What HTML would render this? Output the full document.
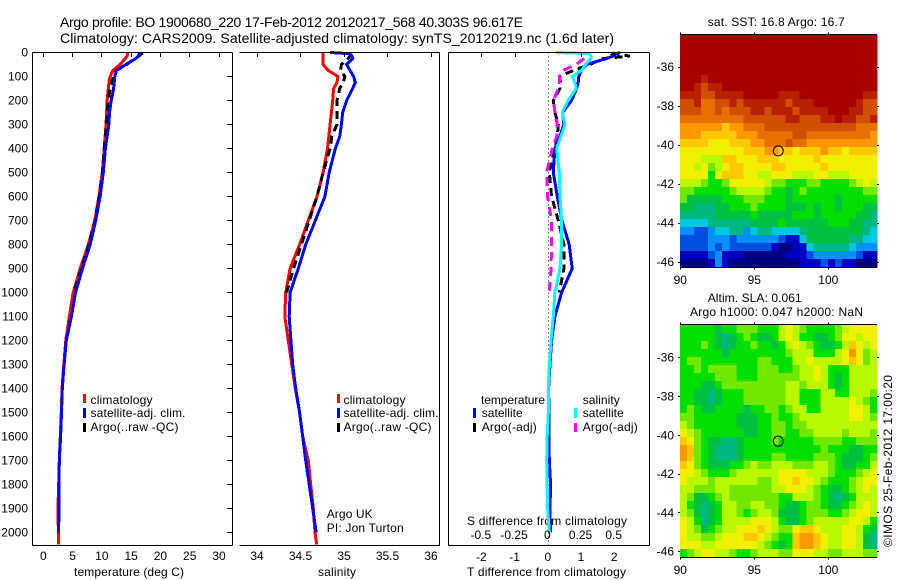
<!DOCTYPE html>
<html>
<head>
<meta charset="utf-8">
<title>Argo profile</title>
<style>
html,body{margin:0;padding:0;background:#fff;width:900px;height:580px;overflow:hidden}
svg{display:block}
text{font-family:"Liberation Sans",sans-serif;font-size:12px;fill:#000}
</style>
</head>
<body>
<svg id="chart" width="900" height="580" viewBox="0 0 900 580">
<text x="60" y="27" style="font-size:14px" textLength="463">Argo profile: BO 1900680_220 17-Feb-2012 20120217_568 40.303S 96.617E</text>
<text x="60" y="43" style="font-size:14px" textLength="554">Climatology: CARS2009. Satellite-adjusted climatology: synTS_20120219.nc (1.6d later)</text>

<text x="74" y="576" textLength="110">temperature (deg C)</text>
<text x="318" y="576" textLength="38">salinity</text>
<text x="467" y="576" textLength="159">T difference from climatology</text>
<text x="467" y="525" textLength="160">S difference from climatology</text>

<g>
<rect x="83" y="394" width="3" height="9" fill="#ff0000"/>
<text x="90.5" y="404" textLength="62">climatology</text>
<rect x="83" y="408" width="3" height="10" fill="#0000ff"/>
<text x="90.5" y="417" textLength="95">satellite-adj. clim.</text>
<rect x="83" y="423" width="3" height="9" fill="#000"/>
<text x="90.5" y="431" textLength="88">Argo(..raw -QC)</text>
</g>
<g>
<rect x="337" y="394" width="3" height="9" fill="#ff0000"/>
<text x="343.5" y="404" textLength="62">climatology</text>
<rect x="337" y="408" width="3" height="10" fill="#0000ff"/>
<text x="343.5" y="417" textLength="95">satellite-adj. clim.</text>
<rect x="337" y="423" width="3" height="9" fill="#000"/>
<text x="343.5" y="431" textLength="88">Argo(..raw -QC)</text>
</g>
<text x="326.7" y="518" textLength="46">Argo UK</text>
<text x="326.7" y="532" textLength="77">PI: Jon Turton</text>

<g>
<text x="481" y="404" textLength="64">temperature</text>
<rect x="473" y="408" width="3" height="10" fill="#0000ff"/>
<text x="481.7" y="417" textLength="41">satellite</text>
<rect x="473" y="423" width="3" height="9" fill="#000"/>
<text x="481.7" y="431" textLength="55">Argo(-adj)</text>
<text x="582.7" y="404" textLength="37">salinity</text>
<rect x="574" y="408" width="3" height="10" fill="#00ffff"/>
<text x="582.7" y="417" textLength="41">satellite</text>
<rect x="574" y="423" width="3" height="9" fill="#ff00ff"/>
<text x="582.7" y="431" textLength="55">Argo(-adj)</text>
</g>

<text x="707.7" y="26" textLength="137">sat. SST: 16.8 Argo: 16.7</text>
<text x="707.7" y="302" textLength="94">Altim. SLA: 0.061</text>
<text x="690" y="316" textLength="173">Argo h1000: 0.047 h2000: NaN</text>
<text transform="translate(892,547) rotate(-90)" x="0" y="0" textLength="172">©IMOS 25-Feb-2012 17:00:20</text>
</svg>
<script>
var depths = [0,5,15,25,50,75,100,125,150,200,250,300,350,400,500,600,700,800,900,1000,1100,1200,1300,1400,1500,1600,1700,1800,1900,2000,2050];
var depthTicks = [0,100,200,300,400,500,600,700,800,900,1000,1100,1200,1300,1400,1500,1600,1700,1800,1900,2000];
var tempTicks = [0,5,10,15,20,25,30];
var salTicks = [34,34.5,35,35.5,36];
var dTTicks = [-2,-1,0,1,2];
var dSTicks = [-0.5,-0.25,0,0.25,0.5];
var lonTicks = [90,95,100];
var latTicks = [-36,-38,-40,-42,-44,-46];
var argoLon = [96.617];
var argoLat = [-40.303];

var tempClim = [14.4,14.4,14.3,14.0,13.1,11.9,11.4,11.2,11.1,10.9,10.8,10.7,10.55,10.4,10.07,9.5,8.8,7.7,6.3,5.1,4.44,3.85,3.5,3.2,3.07,2.9,2.74,2.63,2.5,2.57,2.57];
var tempSat = [16.4,16.4,16.2,15.8,14.1,12.5,12.2,12.1,12,11.6,11.3,11.2,10.9,10.6,10.25,9.7,8.95,8,6.7,5.5,4.8,3.93,3.55,3.25,3.1,2.95,2.74,2.7,2.72,2.57,null];
var tempArgo = [16.7,16.8,16.3,15.7,14.2,12.5,12,11.7,11.4,11.1,10.9,10.8,10.6,10.4,10.1,9.55,8.85,7.8,6.5,5.15,null,null,null,null,null,null,null,null,null,null,null];

var salClim = [34.76,34.76,34.76,34.76,34.76,34.82,34.93,34.92,34.88,34.87,34.855,34.84,34.825,34.81,34.76,34.69,34.59,34.49,34.38,34.33,34.32,34.36,34.40,34.44,34.49,34.525,34.59,34.617,34.647,34.667,34.686];
var salSat = [34.84,35.07,35.09,35.1,35.03,35.07,35.11,35.13,35.1,35.03,34.985,34.97,34.95,34.9,34.83,34.78,34.67,34.56,34.475,34.38,34.37,34.39,34.41,34.445,34.49,34.525,34.56,34.6,34.64,34.68,null];
var salArgo = [35.07,35.07,35.07,35.05,34.97,34.96,35.01,34.99,34.95,34.92,34.92,34.92,34.86,34.84,34.76,34.69,34.6,34.51,34.42,34.34,null,null,null,null,null,null,null,null,null,null,null];

var dTSat = [2.16,2.05,1.95,1.76,1.15,1.0,0.92,0.9,0.85,0.7,0.43,0.47,0.35,0.2,0.15,0.27,0.41,0.63,0.72,0.4,0.2,0.1,0.05,0.01,0.02,0.02,0.03,0.07,0.05,0.07,null];
var dSSat = [0.06,0.31,0.32,0.32,0.28,0.25,0.18,0.2,0.21,0.15,0.105,0.126,0.095,0.063,0.083,0.088,0.1,0.1,0.088,0.05,0.038,0.02,0.008,0,0,-0.008,-0.012,-0.008,-0.005,0.008,null];
var dTArgo = [2.0,1.96,2.46,1.66,1.25,0.75,0.33,0.37,0.35,0.15,0.2,0.3,0.27,0.2,0.03,0.1,0.3,0.47,0.47,0.33,null,null,null,null,null,null,null,null,null,null,null];
var dSArgo = [null,null,null,0.27,0.21,0.11,0.083,0.083,0.075,0.04,0.05,0.068,0.063,0.03,-0.012,-0.005,0.025,0.025,0.02,0.008,null,null,null,null,null,null,null,null,null,null,null];

var paletteColors = ['#000080','#0000c0','#0050e0','#0090ff','#00c8e0','#00b880','#00c040','#00e000','#70e800','#b8f800','#f0f000','#ffc800','#ff9800','#e87000','#d05000','#b82000','#a80000'];

var sstGrid = [
[16,16,16,16,16,16,16,16,16,16,16,16,16,16,16,16,16,16,16,16,16,16,16,16,16,16,16,16],
[16,16,16,16,16,16,16,16,16,16,16,16,16,16,16,16,16,16,16,16,16,16,16,16,16,16,16,16],
[16,16,16,16,16,16,16,16,16,16,16,16,16,16,16,16,16,16,16,16,16,16,16,16,16,16,16,16],
[16,16,16,16,16,16,16,16,16,16,16,16,16,16,16,16,16,16,16,16,16,16,16,16,16,16,16,16],
[16,16,16,16,16,16,16,16,16,16,16,16,16,16,16,16,16,16,16,16,16,16,16,16,16,16,16,16],
[16,16,16,15,16,16,16,16,16,16,16,16,16,16,16,16,16,16,16,16,16,16,16,16,16,16,16,16],
[16,16,15,14,15,15,16,16,16,16,16,16,16,16,16,16,16,16,16,16,16,16,16,16,16,16,16,16],
[15,15,15,14,14,15,15,15,15,16,16,16,16,16,15,15,15,16,16,16,16,16,16,16,16,16,15,15],
[14,14,15,13,13,14,14,15,14,15,15,15,15,15,15,14,15,15,15,16,16,16,16,16,16,15,14,14],
[14,14,14,13,13,14,13,14,14,14,15,15,14,15,15,15,14,15,15,15,15,16,16,16,15,15,14,14],
[13,13,13,13,13,13,13,13,13,14,14,14,14,14,14,15,15,14,14,14,15,15,16,15,15,14,14,15],
[12,12,12,12,12,12,11,12,12,13,13,13,14,14,14,14,14,14,14,14,14,14,14,14,14,13,13,13],
[12,12,12,11,11,11,11,11,12,12,12,13,13,13,13,13,14,14,13,13,13,13,13,13,13,13,13,12],
[11,11,11,11,10,10,10,11,11,11,12,12,13,13,13,14,13,13,12,12,12,12,12,12,12,12,12,12],
[10,10,10,10,10,10,10,10,10,11,11,11,12,12,11,11,10,11,11,11,12,11,11,10,11,11,11,11],
[10,10,10,9,9,9,11,11,10,10,10,11,11,11,10,10,10,10,10,11,10,10,10,10,10,10,10,10],
[10,10,9,10,8,9,10,11,11,10,10,10,10,11,11,10,10,10,10,10,11,10,10,10,10,10,10,10],
[10,10,10,10,7,10,11,11,11,10,10,9,9,10,10,10,9,9,9,10,10,9,9,9,10,10,10,10],
[9,9,9,8,7,7,8,10,10,10,10,10,9,8,8,7,7,7,8,8,7,7,7,7,8,9,10,9],
[8,8,7,7,7,7,7,8,9,9,9,9,8,7,7,6,7,8,7,7,7,7,7,7,7,7,8,8],
[8,6,6,6,6,6,7,7,7,8,8,8,7,7,7,6,7,7,7,7,7,7,6,7,7,7,7,7],
[6,6,5,5,5,6,6,7,7,7,8,7,7,7,7,6,6,6,7,6,7,7,6,7,7,7,6,6],
[5,5,5,5,5,6,6,6,6,6,7,6,6,6,6,6,7,7,7,6,7,7,7,7,7,6,6,5],
[4,4,4,4,5,5,5,5,5,5,6,6,6,6,7,6,6,6,6,6,6,7,7,7,6,6,5,5],
[3,3,2,2,3,4,4,5,5,3,4,5,5,4,4,4,4,5,6,6,6,6,6,6,6,6,5,4],
[2,2,2,2,3,3,3,2,3,3,3,3,3,3,2,1,1,4,6,6,6,6,6,6,5,5,4,4],
[2,2,2,2,3,2,3,2,2,2,2,2,2,1,0,0,1,1,4,5,5,5,5,5,4,3,3,3],
[1,1,1,1,2,3,1,1,1,0,0,0,0,0,0,1,1,1,2,3,3,3,3,3,3,2,1,1],
[0,0,0,0,1,3,1,0,0,0,0,0,0,0,0,0,0,1,1,1,2,1,2,1,1,0,0,0]
];

var slaGrid = [
[7,7,7,7,7,6,7,7,8,8,8,7,7,7,9,10,9,8,7,7,7,7,8,9,10,10,10,10],
[7,7,7,7,7,6,5,6,7,8,7,6,6,7,9,10,9,7,7,6,6,7,8,10,10,9,10,10],
[7,7,7,8,7,6,5,6,7,7,8,7,7,6,7,9,10,9,8,7,6,6,7,9,11,10,9,10],
[7,7,7,7,7,7,6,7,7,7,7,7,7,7,7,8,9,9,9,7,7,7,9,10,12,10,8,9],
[7,8,8,7,7,7,7,7,7,7,7,8,8,7,7,7,9,9,10,9,9,9,9,10,11,10,8,9],
[7,7,8,7,8,8,8,8,7,7,7,8,8,8,7,7,8,9,9,10,9,7,7,7,9,9,9,9],
[7,7,7,7,7,8,8,8,7,7,7,8,8,8,8,8,8,9,9,10,9,7,6,7,9,9,9,9],
[7,7,7,6,6,7,8,8,8,8,8,8,8,8,8,9,9,8,9,9,9,7,6,7,9,9,9,9],
[7,7,6,6,5,6,7,7,7,8,8,8,8,8,8,9,9,7,7,7,9,9,7,7,9,9,9,8],
[7,7,6,6,5,6,7,7,7,8,8,8,8,8,8,9,9,7,7,7,9,9,9,9,10,9,8,7],
[7,8,7,6,6,7,7,7,7,6,7,7,8,8,7,8,9,9,7,7,9,9,9,9,10,10,9,7],
[8,8,7,7,7,7,7,7,6,6,6,7,7,8,7,7,8,9,9,9,9,9,9,9,10,10,9,8],
[9,8,7,7,7,7,7,7,6,6,6,7,7,8,8,7,8,8,9,9,9,9,9,9,9,9,9,9],
[10,9,8,7,7,7,7,7,7,6,6,7,7,8,8,7,7,8,8,9,9,9,9,8,9,9,9,8],
[11,10,8,7,6,6,5,5,6,7,7,7,7,8,7,7,7,7,7,8,8,8,8,7,7,8,8,8],
[12,11,8,7,6,5,5,5,6,7,7,7,7,7,7,7,7,7,7,7,8,7,7,7,6,6,7,7],
[12,11,8,7,6,5,5,5,6,7,7,7,7,8,8,7,7,7,7,8,8,8,7,6,6,6,7,8],
[11,10,8,7,6,6,6,7,7,8,9,8,8,9,9,9,8,8,8,9,9,8,7,6,6,7,7,9],
[10,10,9,8,7,7,7,8,9,9,9,9,9,9,10,10,10,10,9,9,9,8,7,7,7,8,9,10],
[10,9,9,9,8,9,9,9,9,9,9,8,8,9,10,10,11,10,10,9,8,7,7,7,8,9,10,10],
[9,9,8,8,8,9,9,8,8,8,8,8,8,9,9,10,10,10,9,8,7,6,6,7,8,9,10,9],
[9,8,6,6,7,8,9,8,8,8,8,8,8,8,7,7,9,9,9,8,7,6,5,6,7,9,9,9],
[9,7,6,5,6,7,9,9,8,8,9,9,8,8,7,6,6,7,8,8,7,6,6,7,8,9,10,9],
[9,8,6,5,6,7,9,9,8,7,8,9,9,8,6,6,6,7,8,8,8,7,7,8,9,10,10,9],
[10,9,7,5,6,7,9,9,9,9,10,10,10,9,7,6,6,7,8,9,9,9,9,9,10,10,9,7],
[10,9,8,6,7,8,9,9,10,10,10,11,10,9,8,8,10,11,11,10,9,9,9,10,10,9,7,6],
[10,9,9,8,8,9,10,10,10,11,11,10,9,8,7,7,11,12,12,11,10,9,9,10,10,9,6,5],
[10,10,10,9,9,10,10,10,10,10,10,9,8,7,6,7,11,12,12,11,10,9,9,10,10,9,6,5],
[7,8,9,10,10,9,9,8,7,7,8,9,9,9,8,8,10,10,10,9,9,8,8,9,9,9,8,8]
];

var svg = document.getElementById('chart');
var NS = 'http://www.w3.org/2000/svg';
function make(tag, parent) {
  var e = document.createElementNS(NS, tag);
  parent.appendChild(e);
  return e;
}
function lineTo(parent, x1, y1, x2, y2) {
  var l = make('line', parent);
  l.setAttribute('x1', x1);
  l.setAttribute('y1', y1);
  l.setAttribute('x2', x2);
  l.setAttribute('y2', y2);
  l.setAttribute('stroke', '#000');
  l.setAttribute('stroke-width', 1);
  l.setAttribute('shape-rendering', 'crispEdges');
  
  
  return l;
}
function label(parent, str, x, y, anchor) {
  var t = make('text', parent);
  t.setAttribute('x', x);
  t.setAttribute('y', y);
  t.setAttribute('text-anchor', anchor);
  t.textContent = str;
  
  
  return t;
}
var yTop = 52.5, yBottom = 545.5, pxPerMetre = 0.24;
function yDepth(d) { return yTop + d * pxPerMetre; }
function linear(v0, p0, v1, p1) {
  return function (v) { return p0 + (v - v0) * (p1 - p0) / (v1 - v0); };
}
function profile(parent, values, xf, color, dash, name) {
  var d = '', pen = false;
  for (var i = 0; i < depths.length; i++) {
    if (values[i] === null) { pen = false; continue; }
    d += (pen ? 'L' : 'M') + xf(values[i]).toFixed(1) + ' ' + yDepth(depths[i]).toFixed(1);
    pen = true;
  }
  var p = make('path', parent);
  p.setAttribute('d', d);
  p.setAttribute('fill', 'none');
  p.setAttribute('stroke', color);
  p.setAttribute('stroke-width', 3);
  p.setAttribute('shape-rendering', 'crispEdges');
  if (dash) p.setAttribute('stroke-dasharray', dash);
  
  
}
function fmt(v) { return String(v); }

/* ---- temperature panel ---- */
var tempPanel = make('g', svg);


var xTemp = linear(0, 43.3, 30, 219);
profile(tempPanel, tempClim, xTemp, '#ff0000', null, 'temperature-climatology-line');
profile(tempPanel, tempArgo, xTemp, '#000000', '8 5', 'temperature-argo-line');
profile(tempPanel, tempSat, xTemp, '#0000ff', null, 'temperature-satellite-line');
lineTo(tempPanel, 32.5, 52.5, 232.5, 52.5);
lineTo(tempPanel, 32.5, 545.5, 232.5, 545.5);
lineTo(tempPanel, 32.5, 52.5, 32.5, 545.5);
lineTo(tempPanel, 232.5, 52.5, 232.5, 545.5);
depthTicks.forEach(function (d) {
  var y = Math.floor(yDepth(d)) + 0.5;
  lineTo(tempPanel, 227, y, 232, y);
  label(tempPanel, fmt(d), 28, y + 4, 'end');
});
tempTicks.forEach(function (v) {
  var x = Math.floor(xTemp(v)) + 0.5;
  lineTo(tempPanel, x, 52.5, x, 57);
  label(tempPanel, fmt(v), xTemp(v), 560, 'middle');
});

/* ---- salinity panel ---- */
var salPanel = make('g', svg);


var xSal = linear(34, 257, 36, 431);
profile(salPanel, salClim, xSal, '#ff0000', null, 'salinity-climatology-line');
profile(salPanel, salArgo, xSal, '#000000', '8 5', 'salinity-argo-line');
profile(salPanel, salSat, xSal, '#0000ff', null, 'salinity-satellite-line');
lineTo(salPanel, 239.5, 52.5, 439.5, 52.5);
lineTo(salPanel, 239.5, 545.5, 439.5, 545.5);
lineTo(salPanel, 439.5, 52.5, 439.5, 545.5);
salTicks.forEach(function (v) {
  var x = Math.floor(xSal(v)) + 0.5;
  lineTo(salPanel, x, 52.5, x, 57);
  label(salPanel, fmt(v), xSal(v), 560, 'middle');
});

/* ---- difference panel ---- */
var diffPanel = make('g', svg);


var xDT = linear(0, 548.3, 2, 614.7);
var xDS = linear(0, 548.3, 0.5, 614.7);
var zeroLine = lineTo(diffPanel, 548.5, 52.5, 548.5, 545.5);
zeroLine.setAttribute('stroke-dasharray', '1 3');

profile(diffPanel, dTArgo, xDT, '#000000', '8 5', 'temperature-difference-argo-line');
profile(diffPanel, dSArgo, xDS, '#ff00ff', '9 6', 'salinity-difference-argo-line');
profile(diffPanel, dTSat, xDT, '#0000ff', null, 'temperature-difference-satellite-line');
profile(diffPanel, dSSat, xDS, '#00ffff', null, 'salinity-difference-satellite-line');
lineTo(diffPanel, 448.5, 52.5, 649.5, 52.5);
lineTo(diffPanel, 448.5, 545.5, 649.5, 545.5);
lineTo(diffPanel, 448.5, 52.5, 448.5, 545.5);
lineTo(diffPanel, 649.5, 52.5, 649.5, 545.5);
dTTicks.forEach(function (v) {
  var x = Math.floor(xDT(v)) + 0.5;
  if (v !== 0) lineTo(diffPanel, x, 52.5, x, 57);
  label(diffPanel, fmt(v), xDT(v) - 0.5, 561, 'middle');
});
dSTicks.forEach(function (v) {
  label(diffPanel, fmt(v), xDS(v) - 1, 539, 'middle');
});

/* ---- maps ---- */
function drawMap(grid, top, bottom, y36, y46, xLabelY, name) {
  var g = make('g', svg);
  
  
  var left = 680, right = 877;
  var xLon = linear(90, 680.3, 100, 828.3);
  var yLat = linear(-36, y36, -46, y46);
  var rows = grid.length, cols = grid[0].length;
  var cw = (right - left) / cols, ch = (bottom - top) / rows;
  grid.forEach(function (row, r) {
    row.forEach(function (v, c) {
      var cell = make('rect', g);
      cell.setAttribute('x', (left + c * cw).toFixed(2));
      cell.setAttribute('y', (top + r * ch).toFixed(2));
      cell.setAttribute('width', (cw + 0.5).toFixed(2));
      cell.setAttribute('height', (ch + 0.5).toFixed(2));
      cell.setAttribute('fill', paletteColors[v]);
      cell.setAttribute('shape-rendering', 'crispEdges');
      
      
    });
  });
  lineTo(g, left, top - 0.5, right, top - 0.5);
  lineTo(g, left, bottom + 0.5, right, bottom + 0.5);
  lonTicks.forEach(function (v) {
    var x = Math.floor(xLon(v)) + 0.5;
    lineTo(g, x, top - 2.5, x, top);
    lineTo(g, x, bottom, x, bottom + 2.5);
    label(g, fmt(v), xLon(v), xLabelY, 'middle');
  });
  latTicks.forEach(function (v) {
    var y = Math.floor(yLat(v)) + 0.5;
    lineTo(g, left - 2, y, left, y);
    lineTo(g, right, y, right + 2, y);
    label(g, fmt(v), 674, yLat(v) + 4, 'end');
  });
  argoLon.forEach(function (lon, i) {
    var m = make('circle', g);
    m.setAttribute('cx', xLon(lon));
    m.setAttribute('cy', yLat(argoLat[i]));
    m.setAttribute('r', 5);
    m.setAttribute('fill', 'none');
    m.setAttribute('stroke', '#000');
    m.setAttribute('stroke-width', 1);
    
    
  });
}
drawMap(sstGrid, 35, 267, 67, 262, 284, 'sst-map');
drawMap(slaGrid, 325, 557, 357.7, 551.7, 574, 'sla-map');
</script>
</body>
</html>
